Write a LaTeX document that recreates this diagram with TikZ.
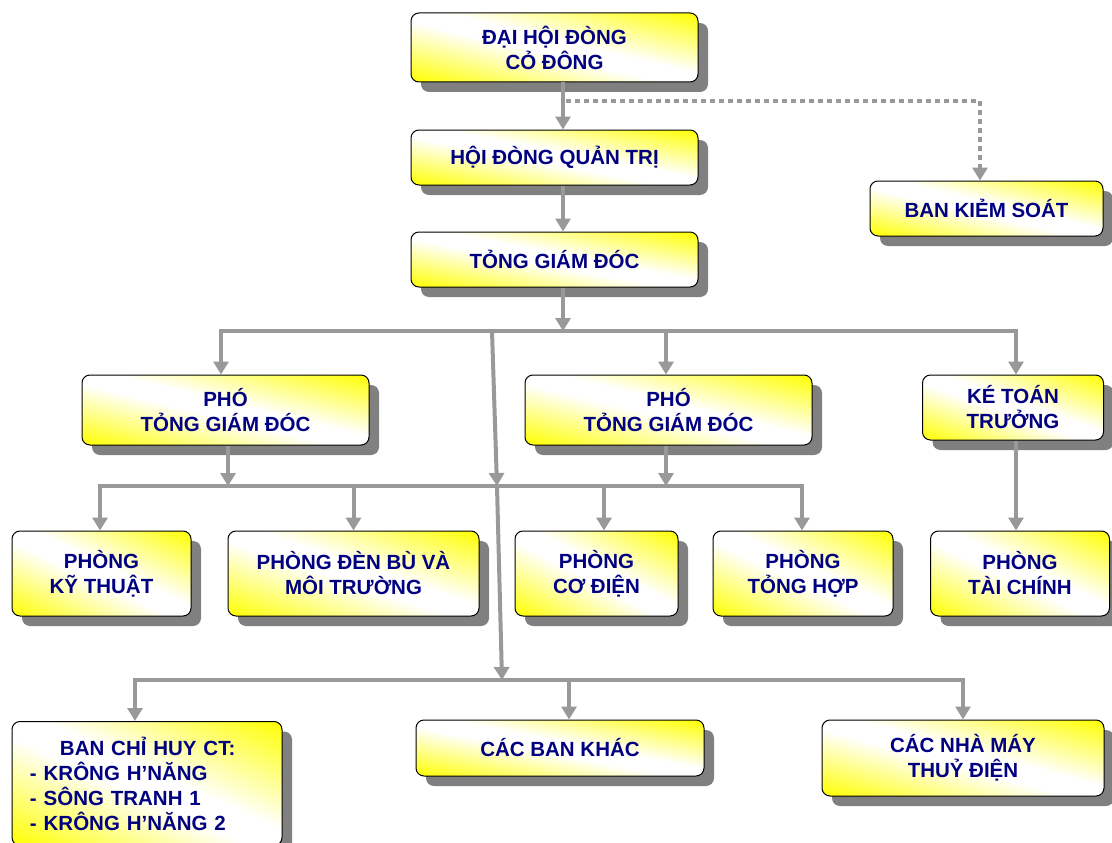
\documentclass[tikz,border=0pt]{standalone}
\usepackage{fontspec}
\setmainfont{Liberation Sans}
\usetikzlibrary{arrows.meta,shadows}
\definecolor{navy}{RGB}{0,0,128}
\definecolor{conngray}{RGB}{153,153,153}
\definecolor{shadowgray}{RGB}{128,128,128}
% yellow at bottom-left and top-right corners, white along the other diagonal
\pgfdeclarefunctionalshading{ywy}{\pgfpointorigin}{\pgfpoint{100bp}{100bp}}{}{add 100 sub abs 6 sub 44 div dup 0 lt {pop 0} if dup 1 gt {pop 1} if 1 exch sub 1 1 3 -1 roll}
\begin{document}
\begin{tikzpicture}[x=1pt,y=-1pt,
  box/.style={draw=black, line width=1pt, rounded corners=8pt,
    shading=ywy,
    drop shadow={shadow xshift=10pt, shadow yshift=-10pt, fill=shadowgray, opacity=1},
    text=navy, font=\fontsize{20.5}{25}\selectfont\bfseries, align=center, inner sep=0pt},
  conn/.style={draw=conngray, line width=4pt, -{Triangle[length=13pt,width=15pt]}},
  dotconn/.style={conn, dash pattern=on 4.5pt off 4.5pt}
]
\useasboundingbox (0,0) rectangle (1112,843);

% boxes
\node[box, minimum width=287pt, minimum height=69pt] (dhd) at (554.5,47.5) {ĐẠI HỘI ĐÒNG\\CỎ ĐÔNG};
\node[box, minimum width=287pt, minimum height=55pt] (hdqt) at (554.5,157.5) {HỘI ĐÒNG QUẢN TRỊ};
\node[box, minimum width=233pt, minimum height=55pt] (bks) at (986.5,208.5) {BAN KIẺM SOÁT};
\node[box, minimum width=287pt, minimum height=55pt] (tgd) at (554.5,259.5) {TỎNG GIÁM ĐÓC};
\node[box, minimum width=287pt, minimum height=70pt] (pho1) at (225.5,410) {PHÓ\\TỎNG GIÁM ĐÓC};
\node[box, minimum width=287pt, minimum height=70pt] (pho2) at (668.5,410) {PHÓ\\TỎNG GIÁM ĐÓC};
\node[box, minimum width=181pt, minimum height=65pt] (ktt) at (1013,407.5) {KÉ TOÁN\\TRƯỞNG};

\node[box, minimum width=179pt, minimum height=85pt] (pkt) at (101.5,573.5) {PHÒNG\\KỸ THUẬT};
\node[box, minimum width=251pt, minimum height=85pt] (pdb) at (353.5,573.5) {PHÒNG ĐÈN BÙ VÀ\\MÔI TRƯỜNG};
\node[box, minimum width=163pt, minimum height=85pt] (pcd) at (596.5,573.5) {PHÒNG\\CƠ ĐIỆN};
\node[box, minimum width=180pt, minimum height=85pt] (pth) at (803,573.5) {PHÒNG\\TỎNG HỢP};
\node[box, minimum width=179pt, minimum height=85pt] (ptc) at (1020,573.5) {PHÒNG\\TÀI CHÍNH};

\node[box, minimum width=270pt, minimum height=124pt, text width=234pt, align=left] (bch) at (147,783.5)
  {\hspace*{30pt}BAN CHỈ HUY CT:\\- KRÔNG H’NĂNG\\- SÔNG TRANH 1\\- KRÔNG H’NĂNG 2};
\node[box, minimum width=288pt, minimum height=56pt] (cbk) at (560,748) {CÁC BAN KHÁC};
\node[box, minimum width=282pt, minimum height=76pt] (nm) at (963,758) {CÁC NHÀ MÁY\\THUỶ ĐIỆN};

% junction coordinates
\coordinate (dj) at (566,101);
\coordinate (j1) at (563,331);
\coordinate (j2) at (666,331);
\coordinate (s1) at (492,331);
\coordinate (s2) at (497,486);
\coordinate (s3) at (502,680);
\coordinate (k1) at (228,486);
\coordinate (k2) at (666,486);

% connectors
\draw[conn] ([xshift=8.5pt]dhd.south) -- ([xshift=8.5pt]hdqt.north);
\draw[dotconn] (dj) -| ([xshift=-6.5pt]bks.north);
\draw[conn] ([xshift=8.5pt]hdqt.south) -- ([xshift=8.5pt]tgd.north);
\draw[conn] ([xshift=8.5pt]tgd.south) -- (j1);
\draw[conn] (j1) -| ([xshift=-4.5pt]pho1.north);
\draw[conn] (j1) -| ([xshift=3pt]ktt.north);
\draw[conn] (j2) -- (j2 |- pho2.north);
\draw[conn] (s1) -- (s2);
\draw[conn] (s2) -- (s3);

\draw[conn] ([xshift=2.5pt]pho1.south) -- (k1);
\draw[conn] ([xshift=-2.5pt]pho2.south) -- (k2);
\draw[conn] (k1) -| ([xshift=-1.5pt]pkt.north);
\draw[conn] (k1) -| ([xshift=-1pt]pth.north);
\draw[conn] (pdb.north |- k1) -- (pdb.north);
\draw[conn] ([xshift=7.5pt]pcd.north |- k1) -- ([xshift=7.5pt]pcd.north);
\draw[conn] ([xshift=3pt]ktt.south) -- ([xshift=3pt]ktt.south |- ptc.north);

\draw[conn] (s3) -| ([xshift=-12pt]bch.north);
\draw[conn] (s3) -| (nm.north);
\draw[conn] ([xshift=9pt]cbk.north |- s3) -- ([xshift=9pt]cbk.north);
\end{tikzpicture}
\end{document}
